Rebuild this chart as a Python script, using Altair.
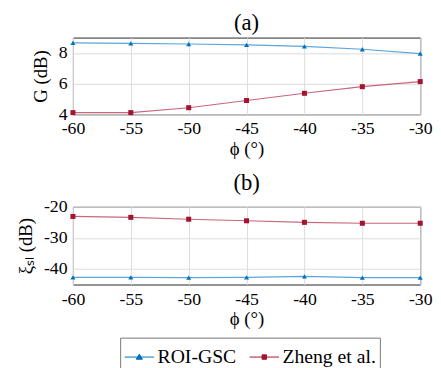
import altair as alt
import pandas as pd

phi = [-60, -55, -50, -45, -40, -35, -30]
series_names = ["ROI-GSC", "Zheng et al."]
g_roi = [8.65, 8.62, 8.58, 8.52, 8.43, 8.24, 7.96]
g_zheng = [4.11, 4.11, 4.43, 4.90, 5.37, 5.80, 6.13]
xi_roi = [-42.7, -42.7, -42.8, -42.7, -42.4, -42.8, -42.8]
xi_zheng = [-23.1, -23.4, -24.0, -24.5, -25.0, -25.3, -25.3]

marker_colors = ["#0072BD", "#A2142F"]
line_colors = ["#5DA5DA", "#C9667A"]
shapes = ["triangle-up", "square"]
legend_paths = [
    "M-1,0H1M0,-0.2L0.21,0.15L-0.21,0.15Z",
    "M-1,0H1M-0.15,-0.15H0.15V0.15H-0.15Z",
]

rows = []
for i, p in enumerate(phi):
    rows.append({"phi": p, "G": g_roi[i], "xi": xi_roi[i], "series": series_names[0]})
    rows.append({"phi": p, "G": g_zheng[i], "xi": xi_zheng[i], "series": series_names[1]})
df = pd.DataFrame(rows)

FONT = "Liberation Serif"
HYPHEN = "datum.value < 0 ? '-' + abs(datum.value) : '' + datum.value"


def panel(field, title, ydomain, yvalues, ytitle, height, with_legend):
    base = alt.Chart(df)
    x = alt.X("phi:Q", scale=alt.Scale(domain=[-60, -30], nice=False),
              axis=alt.Axis(values=phi, title="ϕ (°)", labelExpr=HYPHEN, labelFlush=False,
                            labelFont=FONT, labelFontSize=18, labelPadding=6,
                            titleFont=FONT, titleFontSize=19, titlePadding=2))
    y = alt.Y(f"{field}:Q", scale=alt.Scale(domain=ydomain, nice=False, zero=False),
              axis=alt.Axis(values=yvalues, title=ytitle, labelExpr=HYPHEN,
                            labelFont=FONT, labelFontSize=18, labelPadding=6,
                            titleFont=FONT, titleFontSize=19, titlePadding=8))
    layers = []
    for name, lc, mc, shp in zip(series_names, line_colors, marker_colors, shapes):
        sub = base.transform_filter(alt.datum.series == name)
        layers.append(sub.mark_line(color=lc, strokeWidth=1.2).encode(x=x, y=y))
        layers.append(sub.mark_point(filled=True, color=mc, shape=shp, size=26,
                                     opacity=1).encode(x=x, y=y))
    if with_legend:
        leg = alt.Legend(
            title=None, orient="none", legendX=48, legendY=305,
            direction="horizontal", symbolSize=900, symbolStrokeWidth=1,
            labelFont=FONT, labelFontSize=20, labelColor="black",
            labelOffset=3, columnPadding=10, padding=4,
            strokeColor="#777777", fillColor="white",
        )
        carrier = base.transform_filter(alt.datum.phi > 1000).mark_point(
            filled=True, opacity=1, strokeWidth=1).encode(
            color=alt.Color("series:N", scale=alt.Scale(domain=series_names, range=marker_colors), legend=leg),
            stroke=alt.Stroke("series:N", scale=alt.Scale(domain=series_names, range=marker_colors), legend=leg),
            shape=alt.Shape("series:N", scale=alt.Scale(domain=series_names, range=legend_paths), legend=leg),
        )
        layers.append(carrier)
    return alt.layer(*layers).properties(
        width=353, height=height,
        title=alt.TitleParams(title, fontSize=23, font=FONT, fontWeight="normal", offset=3),
    )


top = panel("G", "(a)", [4, 9], [4, 6, 8], "G (dB)", 78, False)
bottom = panel("xi", "(b)", [-45, -20], [-40, -30, -20], "ξₛₗ (dB)", 79, True)

chart = alt.vconcat(top, bottom, spacing=12).properties(
    padding={"top": 0, "left": 8, "right": 0, "bottom": 5}
).configure_view(
    stroke="#262626", strokeWidth=1
).configure_axis(
    labelColor="black", titleFontWeight="normal", titleColor="black",
    domain=False, ticks=False, gridColor="#dcdcdc", gridWidth=1,
)

chart.save("out.html", embed_options={"renderer": "svg", "actions": False})
